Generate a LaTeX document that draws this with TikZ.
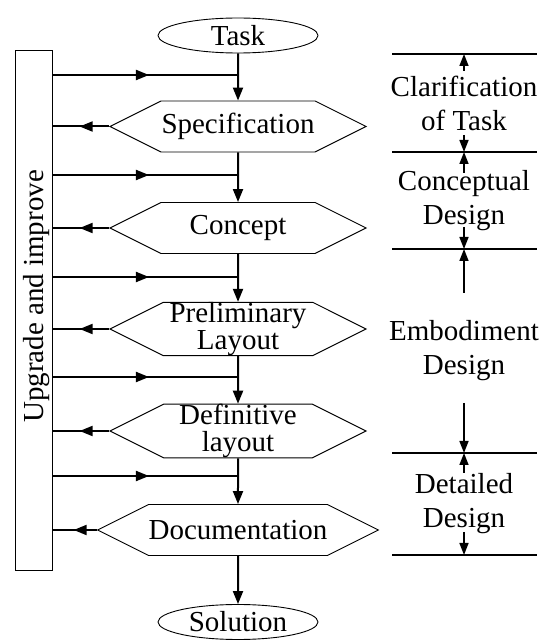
\documentclass[tikz,border=0pt]{standalone}
\usepackage{fontspec}
\setmainfont{Liberation Serif}
\usetikzlibrary{shapes.geometric,shapes.symbols,arrows.meta,decorations.markings}

\tikzset{
  txt/.style={font=\fontsize{29}{27}\selectfont, align=center, inner sep=0pt},
  term/.style={txt, draw, ellipse, line width=0.9pt, minimum width=160pt, minimum height=35pt},
  stage/.style={txt, draw, signal, signal to=west and east, signal pointer angle=53.13,
    line width=0.9pt, minimum width=256pt, minimum height=51pt},
  flow/.style={line width=2pt, -{Triangle[length=13pt,width=10pt]}},
  feed/.style={line width=2pt, postaction={decorate},
    decoration={markings, mark=at position 0.52 with {\arrow{Triangle[length=13pt,width=10pt]}}}},
  phase/.style={txt, font=\fontsize{29}{34}\selectfont},
  border/.style={line width=2pt},
  dim/.style={line width=1.6pt, -{Triangle[length=12pt,width=9pt]}}
}

\begin{document}
\begin{tikzpicture}[x=1pt, y=1pt]
		\useasboundingbox (0,0) rectangle (542,641);
		% main flow
		\node[term] (task) at (238,605.5) {Task};
		\node[stage] (spec) at (238,514.5) {Specification};
		\node[stage] (conc) at (238,413) {Concept};
		\node[stage] (prel) at (238,312) {Preliminary\\Layout};
		\node[stage] (defi) at (238,210) {Definitive\\layout};
		\node[stage] (docu) at (238,111) {Documentation};
		\node[term] (sol) at (238,19) {Solution};
		\draw[flow] (task) -- (spec);
		\draw[flow] (spec) -- (conc);
		\draw[flow] (conc) -- (prel);
		\draw[flow] (prel) -- (defi);
		\draw[flow] (defi) -- (docu);
		\draw[flow] (docu) -- (sol);
		% feedback box
		\node[draw, line width=1pt, minimum width=37pt, minimum height=520pt, inner sep=0pt] (upg) at (33.5,330) {};
		\node[txt, rotate=90, anchor=base] (upgtxt) at (43,344.5) {Upgrade and improve};
		\coordinate (j1) at (238,566);
		\coordinate (j2) at (238,466);
		\coordinate (j3) at (238,364);
		\coordinate (j4) at (238,264);
		\coordinate (j5) at (238,165);
		\draw[feed] (upg.east |- j1) -- (j1);
		\draw[feed] (upg.east |- j2) -- (j2);
		\draw[feed] (upg.east |- j3) -- (j3);
		\draw[feed] (upg.east |- j4) -- (j4);
		\draw[feed] (upg.east |- j5) -- (j5);
		\draw[feed] (spec.west) -- (spec.west -| upg.east);
		\draw[feed] (conc.west) -- (conc.west -| upg.east);
		\draw[feed] (prel.west) -- (prel.west -| upg.east);
		\draw[feed] (defi.west) -- (defi.west -| upg.east);
		\draw[feed] (docu.west) -- (docu.west -| upg.east);
		% phases
		\coordinate (l1) at (464,587);
		\coordinate (l2) at (464,489);
		\coordinate (l3) at (464,392);
		\coordinate (l4) at (464,188);
		\coordinate (l5) at (464,86);
		\draw[border] (392,587) -- (537,587);
		\draw[border] (392,489) -- (537,489);
		\draw[border] (392,392) -- (537,392);
		\draw[border] (392,188) -- (537,188);
		\draw[border] (392,86) -- (537,86);
		\node[phase] (clar) at (464,538) {Clarification\\of Task};
		\node[phase] (cdes) at (464,440.5) {Conceptual\\Design};
		\node[phase] (edes) at (464,290) {Embodiment\\Design};
		\node[phase] (ddes) at (464,137) {Detailed\\Design};
		\draw[dim] ([yshift=-17pt]l1) -- (l1);
		\draw[dim] ([yshift=17pt]l2) -- (l2);
		\draw[dim] ([yshift=-21pt]l2) -- (l2);
		\draw[dim] ([yshift=22pt]l3) -- (l3);
		\draw[dim] ([yshift=-44pt]l3) -- (l3);
		\draw[dim] ([yshift=50pt]l4) -- (l4);
		\draw[dim] ([yshift=-20pt]l4) -- (l4);
		\draw[dim] ([yshift=23pt]l5) -- (l5);
	\end{tikzpicture}
\end{document}
